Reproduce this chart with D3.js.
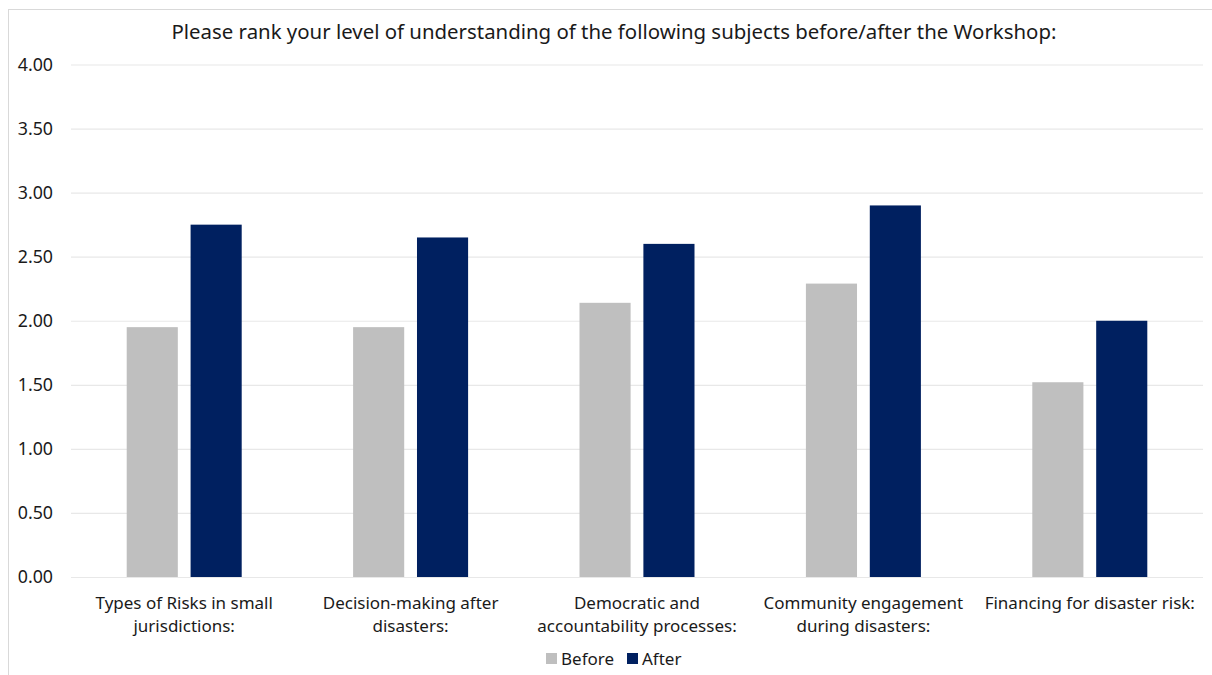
<!DOCTYPE html>
<html>
  <head>
    <meta charset="UTF-8">
    <script src="https://d3js.org/d3.v7.min.js"></script>
    <title>Workshop understanding</title>
    <style>
      body { margin: 0; background: #fff; }
      text { font-family: "Noto Sans", "Open Sans", sans-serif; fill: #1a1a1a; }
    </style>
  </head>
  <body>
    <svg id="chart" width="1212" height="675"></svg>
    <script>
    // data
    var categories = [
      ["Types of Risks in small", "jurisdictions:"],
      ["Decision-making after", "disasters:"],
      ["Democratic and", "accountability processes:"],
      ["Community engagement", "during disasters:"],
      ["Financing for disaster risk:"]
    ];
    var series = ["Before", "After"];
    var beforeValues = [1.95, 1.95, 2.14, 2.29, 1.52];
    var afterValues = [2.75, 2.65, 2.60, 2.90, 2.00];
    var yTicks = [0, 0.5, 1, 1.5, 2, 2.5, 3, 3.5, 4];
    var colors = {Before: "#bfbfbf", After: "#002060"};

    var svg = d3.select("#chart");
    var plotLeft = 71, plotRight = 1203, plotTop = 64.5, plotBottom = 577;

    // chart frame (top and left edges visible)
    svg.append("rect")
      .attr("x", 8.5).attr("y", 9.5)
      .attr("width", 1240).attr("height", 700)
      .attr("fill", "none")
      .attr("stroke", "#d9d9d9");

    svg.append("text")
      .attr("x", 614).attr("y", 39)
      .attr("text-anchor", "middle")
      .style("font-size", "20.4px")
      .text("Please rank your level of understanding of the following subjects before/after the Workshop:");

    var y = d3.scaleLinear().domain([0, 4]).range([plotBottom, plotTop]);
    var idx = d3.range(categories.length);
    var x0 = d3.scaleBand().domain(idx).range([plotLeft, plotRight]).padding(0);
    var x1 = d3.scaleBand().domain(series)
      .range([55.7, 170.7]).paddingInner(0.2);

    // gridlines + tick labels
    var yAxis = d3.axisLeft(y)
      .tickValues(yTicks)
      .tickSize(-(plotRight - plotLeft))
      .tickFormat(d3.format(".2f"))
      .tickPadding(18);
    var gy = svg.append("g")
      .attr("transform", "translate(" + plotLeft + ",0)")
      .call(yAxis);
    gy.select(".domain").remove();
    gy.selectAll(".tick line").attr("stroke", "#e8e8e8").attr("stroke-width", 1.2);
    gy.selectAll(".tick text")
      .style("font-size", "17.8px")
      .attr("fill", "#1a1a1a")
      .style("font-family", "'Noto Sans', sans-serif");

    var rows = idx.map(function(i) {
      return {i: i, values: [
        {key: "Before", value: beforeValues[i]},
        {key: "After", value: afterValues[i]}
      ]};
    });

    var groups = svg.append("g").selectAll("g")
      .data(rows).enter().append("g")
      .attr("transform", function(d) { return "translate(" + x0(d.i) + ",0)"; });

    groups.selectAll("rect")
      .data(function(d) { return d.values; })
      .enter().append("rect")
      .attr("x", function(d) { return x1(d.key); })
      .attr("width", x1.bandwidth())
      .attr("y", function(d) { return y(d.value); })
      .attr("height", function(d) { return y(0) - y(d.value); })
      .attr("fill", function(d) { return colors[d.key]; });

    // category labels
    idx.forEach(function(i) {
      var t = svg.append("text")
        .attr("x", x0(i) + x0.bandwidth() / 2)
        .attr("y", 609)
        .attr("text-anchor", "middle")
        .style("font-size", "17px");
      categories[i].forEach(function(line, j) {
        t.append("tspan")
          .attr("x", x0(i) + x0.bandwidth() / 2)
          .attr("dy", j === 0 ? 0 : 23)
          .text(line);
      });
    });

    // legend
    var legend = svg.append("g").attr("transform", "translate(546,0)");
    var legX = [0, 81];
    series.forEach(function(s, k) {
      legend.append("rect")
        .attr("x", legX[k]).attr("y", 653)
        .attr("width", 11).attr("height", 11)
        .attr("fill", colors[s]);
      legend.append("text")
        .attr("x", legX[k] + 15).attr("y", 665)
        .style("font-size", "17px")
        .text(s);
    });
    </script>
  </body>
</html>
